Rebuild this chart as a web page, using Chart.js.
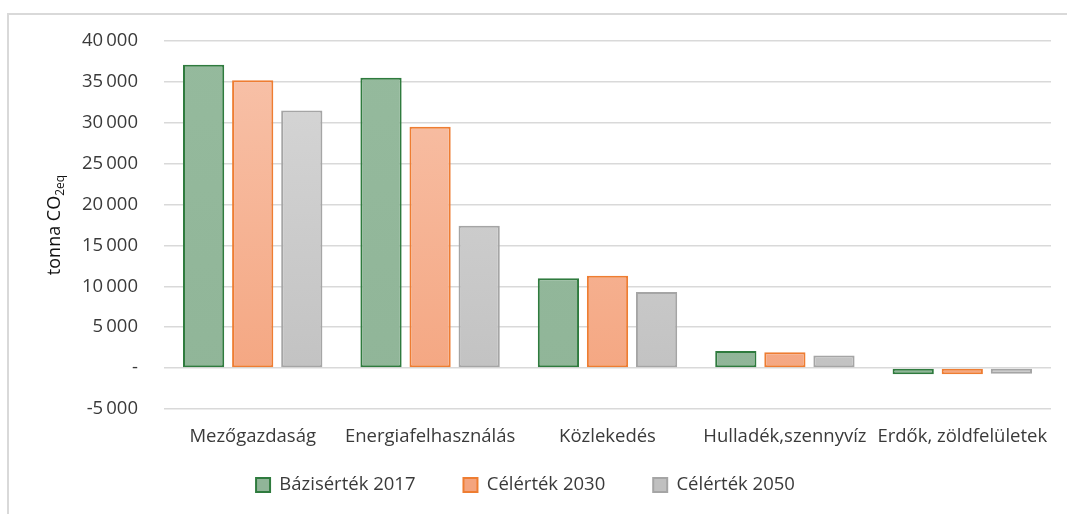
<!DOCTYPE html>
<html>
<head>
<meta charset="utf-8">
<script src="https://cdn.jsdelivr.net/npm/chart.js@4/dist/chart.umd.min.js"></script>
<style>
html,body{margin:0;padding:0;background:#fff;}
#wrap{width:1067px;height:514px;}
</style>
</head>
<body>
<div id="wrap"><canvas id="c" width="1067" height="514"></canvas></div>
<script>
const categories = ['Mezőgazdaság', 'Energiafelhasználás', 'Közlekedés', 'Hulladék,szennyvíz', 'Erdők, zöldfelületek'];
const seriesNames = ['Bázisérték 2017', 'Célérték 2030', 'Célérték 2050'];
const base2017 = [37100, 35500, 11000, 2100, -750];
const target2030 = [35200, 29500, 11300, 1950, -750];
const target2050 = [31500, 17400, 9300, 1550, -700];
const yMin = -5000, yMax = 40000, yStep = 5000;
const yTitleMain = 'tonna CO';
const yTitleSub = '2eq';

const FONT = "'Open Sans', 'DejaVu Sans', sans-serif";
const TEXT = '#3a3a3a';
const LEGEND_PAD = 48;
const LEGEND_SIZE = 18.5;
const LEGEND_CENTER_Y = 485;

function grad(top, bottom) {
  return (ctx) => {
    const chart = ctx.chart;
    const a = chart.chartArea;
    if (!a) return bottom;
    const g = chart.ctx.createLinearGradient(0, a.top, 0, a.bottom);
    g.addColorStop(0, top);
    g.addColorStop(1, bottom);
    return g;
  };
}

const framePlugin = {
  id: 'frame',
  beforeDraw(chart) {
    const c = chart.ctx;
    c.save();
    c.fillStyle = '#ffffff';
    c.fillRect(0, 0, chart.width, chart.height);
    c.strokeStyle = '#d9d9d9';
    c.lineWidth = 2;
    c.beginPath();
    c.moveTo(8, chart.height);
    c.lineTo(8, 14);
    c.lineTo(chart.width, 14);
    c.stroke();
    c.restore();
    // place legend row at its position
    if (chart.legend) {
      chart.legend.top = LEGEND_CENTER_Y - LEGEND_PAD - LEGEND_SIZE / 2;
      chart.legend.bottom = chart.height;
      chart.legend.height = chart.legend.bottom - chart.legend.top;
    }
  }
};

const yTitlePlugin = {
  id: 'ytitle',
  afterDraw(chart) {
    const c = chart.ctx;
    const a = chart.chartArea;
    c.save();
    c.translate(55, (a.top + a.bottom) / 2);
    c.rotate(-Math.PI / 2);
    c.fillStyle = '#111';
    c.textBaseline = 'alphabetic';
    c.textAlign = 'left';
    c.font = "18px " + FONT;
    const w1 = c.measureText(yTitleMain).width;
    c.font = "12px " + FONT;
    const w2 = c.measureText(yTitleSub).width;
    const start = -(w1 + w2) / 2;
    c.font = "18px " + FONT;
    c.fillText(yTitleMain, start, 5);
    c.font = "12px " + FONT;
    c.fillText(yTitleSub, start + w1, 9);
    c.restore();
  }
};

const common = { borderWidth: 2, borderSkipped: false, categoryPercentage: 0.83, barPercentage: 0.84 };

new Chart(document.getElementById('c'), {
  type: 'bar',
  data: {
    labels: categories,
    datasets: [
      Object.assign({ label: seriesNames[0], data: base2017, backgroundColor: grad('#95ba9d', '#90b598'), borderColor: '#2f7b3e' }, common),
      Object.assign({ label: seriesNames[1], data: target2030, backgroundColor: grad('#f8c3ab', '#f4a47e'), borderColor: '#ee7d32' }, common),
      Object.assign({ label: seriesNames[2], data: target2050, backgroundColor: grad('#d8d8d8', '#c0c0c0'), borderColor: '#a5a5a5' }, common)
    ]
  },
  options: {
    responsive: false,
    animation: false,
    devicePixelRatio: 1,
    layout: { padding: { left: 0, right: 16, top: 41, bottom: 0 } },
    plugins: {
      tooltip: { enabled: false },
      legend: {
        position: 'bottom',
        maxHeight: 55,
        labels: {
          boxWidth: 14,
          boxHeight: 14,
          padding: LEGEND_PAD,
          color: TEXT,
          font: { family: FONT, size: LEGEND_SIZE }
        }
      }
    },
    scales: {
      x: {
        grid: { display: false, drawTicks: false },
        border: { display: false },
        ticks: { color: TEXT, font: { family: FONT, size: 18.5 }, padding: 17, maxRotation: 0, autoSkip: false },
        afterFit(scale) { scale.height = 50; }
      },
      y: {
        min: yMin,
        max: yMax,
        grid: { color: '#d9d9d9', lineWidth: 1.5, drawTicks: false },
        border: { display: false },
        ticks: {
          stepSize: yStep,
          padding: 26,
          color: TEXT,
          font: { family: FONT, size: 18.5 },
          callback: (v) => v === 0 ? '-' : (v < 0 ? '-' : '') + Math.abs(v).toString().replace(/\B(?=(\d{3})+(?!\d))/g, '\u2009')
        },
        afterFit(scale) { scale.width = 164; }
      }
    }
  },
  plugins: [framePlugin, yTitlePlugin]
});
</script>
</body>
</html>
